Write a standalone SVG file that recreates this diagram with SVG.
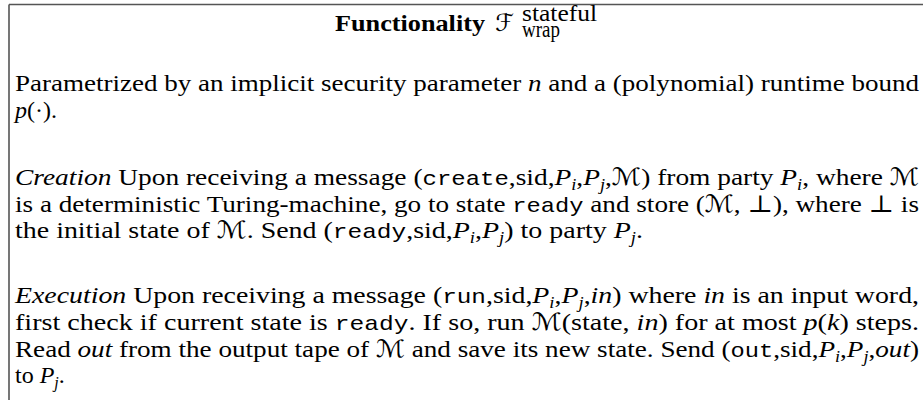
<svg xmlns="http://www.w3.org/2000/svg" width="923" height="400" viewBox="0 0 923 400">
<style>
.t{font-family:"Liberation Serif","DejaVu Serif",serif;font-size:24px;fill:#000}
.b{font-weight:bold}
.i{font-style:italic}
.tt{font-family:"Liberation Mono","DejaVu Sans Mono",monospace;font-size:21px}
.cal{font-family:"DejaVu Serif","DejaVu Sans",serif;font-size:24px}
.s{font-size:16px}
</style>
<rect width="923" height="400" fill="#fff"/>
<g id="frame">
<path d="M9,4.5 H923 M9,4.5 V400" fill="none" stroke="#555" stroke-width="1.6"/>
</g>
<g id="title">
<text class="t b" x="335" y="31" textLength="150" lengthAdjust="spacingAndGlyphs">Functionality</text>
<text class="cal" x="495" y="31" font-size="30">ℱ</text>
<text class="t" x="522" y="21" font-size="14" textLength="75" lengthAdjust="spacingAndGlyphs">stateful</text>
<text class="t" x="522" y="37" font-size="14" textLength="38" lengthAdjust="spacingAndGlyphs">wrap</text>
</g>
<g id="params">
<text class="t" x="15" y="91" textLength="904" lengthAdjust="spacingAndGlyphs">Parametrized by an implicit security parameter <tspan class="i">n</tspan> and a (polynomial) runtime bound</text>
<text class="t" x="15" y="118"><tspan class="i">p</tspan>(·).</text>
</g>
<g id="creation">
<text class="t" x="15" y="185" textLength="904" lengthAdjust="spacingAndGlyphs"><tspan class="i">Creation</tspan> Upon receiving a message (<tspan class="tt">create</tspan>,sid,<tspan class="i">P</tspan><tspan class="i s" dy="5">i</tspan><tspan dy="-5">,</tspan><tspan class="i">P</tspan><tspan class="i s" dy="5">j</tspan><tspan dy="-5">,</tspan><tspan class="cal">ℳ</tspan>) from party <tspan class="i">P</tspan><tspan class="i s" dy="5">i</tspan><tspan dy="-5">, where </tspan><tspan class="cal">ℳ</tspan></text>
<text class="t" x="15" y="212" textLength="904" lengthAdjust="spacingAndGlyphs">is a deterministic Turing-machine, go to state <tspan class="tt">ready</tspan> and store (<tspan class="cal">ℳ</tspan>, ⊥), where ⊥ is</text>
<text class="t" x="15" y="238" textLength="628" lengthAdjust="spacingAndGlyphs">the initial state of <tspan class="cal">ℳ</tspan>. Send (<tspan class="tt">ready</tspan>,sid,<tspan class="i">P</tspan><tspan class="i s" dy="5">i</tspan><tspan dy="-5">,</tspan><tspan class="i">P</tspan><tspan class="i s" dy="5">j</tspan><tspan dy="-5">) to party </tspan><tspan class="i">P</tspan><tspan class="i s" dy="5">j</tspan><tspan dy="-5">.</tspan></text>
</g>
<g id="execution">
<text class="t" x="15" y="303" textLength="904" lengthAdjust="spacingAndGlyphs"><tspan class="i">Execution</tspan> Upon receiving a message (<tspan class="tt">run</tspan>,sid,<tspan class="i">P</tspan><tspan class="i s" dy="5">i</tspan><tspan dy="-5">,</tspan><tspan class="i">P</tspan><tspan class="i s" dy="5">j</tspan><tspan dy="-5">,</tspan><tspan class="i">in</tspan>) where <tspan class="i">in</tspan> is an input word,</text>
<text class="t" x="15" y="330" textLength="904" lengthAdjust="spacingAndGlyphs">first check if current state is <tspan class="tt">ready</tspan>. If so, run <tspan class="cal">ℳ</tspan>(state, <tspan class="i">in</tspan>) for at most <tspan class="i">p</tspan>(<tspan class="i">k</tspan>) steps.</text>
<text class="t" x="15" y="357" textLength="904" lengthAdjust="spacingAndGlyphs">Read <tspan class="i">out</tspan> from the output tape of <tspan class="cal">ℳ</tspan> and save its new state. Send (<tspan class="tt">out</tspan>,sid,<tspan class="i">P</tspan><tspan class="i s" dy="5">i</tspan><tspan dy="-5">,</tspan><tspan class="i">P</tspan><tspan class="i s" dy="5">j</tspan><tspan dy="-5">,</tspan><tspan class="i">out</tspan>)</text>
<text class="t" x="15" y="383">to <tspan class="i">P</tspan><tspan class="i s" dy="5">j</tspan><tspan dy="-5">.</tspan></text>
</g>
</svg>
